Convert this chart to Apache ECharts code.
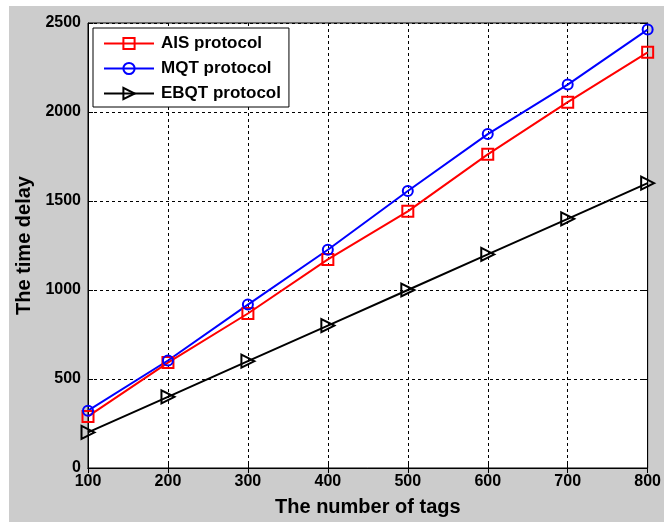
<!DOCTYPE html>
<html>
<head>
<meta charset="utf-8">
<script src="https://cdn.jsdelivr.net/npm/echarts@6/dist/echarts.min.js"></script>
<style>html,body{margin:0;padding:0;background:#fff;overflow:hidden;}#c{width:664px;height:522px;}</style>
</head>
<body>
<div id="c"></div>
<script>
var tags = [100, 200, 300, 400, 500, 600, 700, 800];
var aisDelay = [290, 592, 868, 1172, 1442, 1762, 2055, 2335];
var mqtDelay = [322, 604, 918, 1226, 1556, 1876, 2154, 2463];
var ebqtDelay = [200, 400, 600, 800, 1000, 1200, 1400, 1600];
var seriesNames = ['AIS protocol', 'MQT protocol', 'EBQT protocol'];
var xTitle = 'The number of tags';
var yTitle = 'The time delay';

function pairs(ys) { return tags.map(function (t, i) { return [t, ys[i]]; }); }

var font = 'Liberation Sans, Arial, Helvetica, sans-serif';
var chart = echarts.init(document.getElementById('c'));
var axisCommon = {
  axisLine: { show: true, lineStyle: { color: '#000', width: 1 } },
  axisTick: { show: true, inside: true, length: 5, lineStyle: { color: '#000' } }
};
chart.setOption({
  animation: false,
  backgroundColor: '#fff',
  graphic: [{ type: 'rect', z: -100, shape: { x: 9, y: 6, width: 655, height: 516 }, style: { fill: '#cccccc' } }],
  grid: { left: 88, top: 23, right: 11, bottom: 53, show: true, backgroundColor: '#fff', borderColor: '#000', borderWidth: 1 },
  legend: {
    left: 93, top: 28, orient: 'vertical',
    backgroundColor: '#fff', borderColor: '#000', borderWidth: 1,
    padding: [7, 8, 5, 10], itemWidth: 50, itemHeight: 14, itemGap: 8,
    textStyle: { fontFamily: font, fontWeight: 'bold', fontSize: 17, color: '#000', padding: [0, 0, 0, 2] },
    data: seriesNames
  },
  xAxis: [
    Object.assign({
      type: 'value', min: 100, max: 800, interval: 100, position: 'bottom',
      name: xTitle, nameLocation: 'middle', nameGap: 29,
      nameTextStyle: { fontFamily: font, fontWeight: 'bold', fontSize: 20, color: '#000' },
      axisLabel: { fontFamily: font, fontWeight: 'bold', fontSize: 16, color: '#000', margin: 6 },
      splitLine: { show: true, lineStyle: { color: '#000', type: [3, 3], width: 1 } }
    }, axisCommon),
    Object.assign({
      type: 'value', min: 100, max: 800, interval: 100, position: 'top',
      axisLabel: { show: false }, splitLine: { show: false }
    }, axisCommon)
  ],
  yAxis: [
    Object.assign({
      type: 'value', min: 0, max: 2500, interval: 500, position: 'left',
      name: yTitle, nameLocation: 'middle', nameGap: 48,
      nameTextStyle: { fontFamily: font, fontWeight: 'bold', fontSize: 20, color: '#000' },
      axisLabel: { fontFamily: font, fontWeight: 'bold', fontSize: 16, color: '#000', margin: 7,
        formatter: function (v) { return String(v); } },
      splitLine: { show: true, lineStyle: { color: '#000', type: [3, 3], width: 1 } }
    }, axisCommon),
    Object.assign({
      type: 'value', min: 0, max: 2500, interval: 500, position: 'right',
      axisLabel: { show: false }, splitLine: { show: false }
    }, axisCommon)
  ],
  series: [
    {
      name: seriesNames[0], type: 'line', data: pairs(aisDelay),
      symbol: 'rect', symbolSize: 11,
      lineStyle: { color: '#ff0000', width: 2 },
      itemStyle: { color: 'rgba(0,0,0,0)', borderColor: '#ff0000', borderWidth: 2 }
    },
    {
      name: seriesNames[1], type: 'line', data: pairs(mqtDelay),
      symbol: 'circle', symbolSize: 10,
      lineStyle: { color: '#0000ff', width: 2 },
      itemStyle: { color: 'rgba(0,0,0,0)', borderColor: '#0000ff', borderWidth: 2 }
    },
    {
      name: seriesNames[2], type: 'line', data: pairs(ebqtDelay),
      symbol: 'triangle', symbolSize: 13, symbolRotate: -90,
      lineStyle: { color: '#000000', width: 2 },
      itemStyle: { color: 'rgba(0,0,0,0)', borderColor: '#000000', borderWidth: 2 }
    }
  ]
});
</script>
</body>
</html>
